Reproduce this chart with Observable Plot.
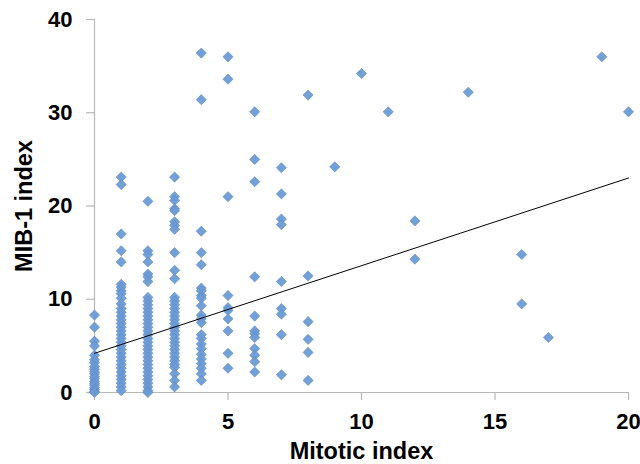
<!DOCTYPE html>
<html>
<head>
<meta charset="utf-8">
<script src="https://cdn.jsdelivr.net/npm/d3@7"></script>
<script src="https://cdn.jsdelivr.net/npm/@observablehq/plot@0.6"></script>
<style>
  html, body { margin: 0; padding: 0; background: #fff; }
  svg { font-family: "Liberation Sans", Arial, sans-serif; }
</style>
</head>
<body>
<div id="chart"></div>
<script>
// Mitotic index (x) and MIB-1 index (y) pairs, grouped by x value
const mitotic0 = [8.3, 7.0, 5.5, 5.0, 4.0, 3.5, 3.2, 2.8, 2.5, 2.2, 2.0, 1.7, 1.5, 1.2, 1.0, 0.8, 0.5, 0.3, 0.1, 0];
const mitotic1 = [23.1, 22.3, 17.0, 15.2, 14.0, 11.6, 11.3, 10.9, 10.6, 10.1, 9.5, 9.0, 8.6, 8.2, 7.8, 7.4, 7.0, 6.6, 6.2, 5.8, 5.4, 5.0, 4.6, 4.2, 3.8, 3.4, 3.0, 2.6, 2.2, 1.8, 1.4, 1.0, 0.6, 0.2];
const mitotic2 = [20.5, 15.2, 14.8, 14.0, 12.7, 12.4, 11.9, 10.2, 9.8, 9.4, 9.0, 8.6, 8.2, 7.8, 7.4, 7.0, 6.6, 6.2, 5.8, 5.4, 5.0, 4.6, 4.2, 3.8, 3.4, 3.0, 2.6, 2.2, 1.8, 1.4, 1.0, 0.6, 0.2, 0];
const mitotic3 = [23.1, 21.0, 20.6, 19.7, 19.5, 18.3, 17.9, 17.5, 15.0, 13.1, 12.2, 10.2, 9.8, 9.4, 9.0, 8.6, 8.2, 7.8, 7.4, 7.0, 6.6, 6.2, 5.8, 5.4, 5.0, 4.6, 4.2, 3.8, 3.4, 3.0, 2.7, 2.0, 1.3, 0.6];
const mitotic4 = [36.4, 31.4, 17.3, 15.0, 13.7, 11.2, 10.9, 10.4, 10.1, 9.3, 8.3, 7.9, 7.5, 6.2, 5.8, 5.2, 4.7, 4.1, 3.6, 3.1, 2.6, 2.0, 1.3];
const mitotic5 = [36.0, 33.6, 21.0, 10.4, 9.1, 8.8, 7.9, 6.6, 4.2, 2.6];
const mitotic6 = [30.1, 25.0, 22.6, 12.4, 8.2, 6.6, 6.3, 5.9, 4.7, 4.0, 3.3, 2.2];
const mitotic7 = [24.1, 21.3, 18.6, 18.0, 11.9, 9.0, 8.4, 6.2, 1.9];
const mitotic8 = [31.9, 12.5, 7.6, 5.7, 4.3, 1.3];
const sparseX = [9, 10, 11, 12, 12, 14, 16, 16, 17, 19, 20];
const sparseY = [24.2, 34.2, 30.1, 18.4, 14.3, 32.2, 14.8, 9.5, 5.9, 36.0, 30.1];

// Trend line endpoints
const trendX = [0, 20];
const trendY = [4.2, 23.0];

const xTicks = [0, 5, 10, 15, 20];
const yTicks = [0, 10, 20, 30, 40];

const columns = [mitotic0, mitotic1, mitotic2, mitotic3, mitotic4, mitotic5, mitotic6, mitotic7, mitotic8];
const points = [];
columns.forEach((col, i) => col.forEach(v => points.push({x: i, y: v})));
sparseX.forEach((x, i) => points.push({x, y: sparseY[i]}));
const trend = trendX.map((x, i) => ({x, y: trendY[i]}));

const axisColor = "#b8b8b8";

const chart = Plot.plot({
  width: 640,
  height: 464,
  marginLeft: 94,
  marginRight: 12,
  marginTop: 19,
  marginBottom: 72,
  style: {fontFamily: "'Liberation Sans', Arial, sans-serif", fontSize: "22px", fontWeight: "bold", color: "#000", background: "#fff"},
  x: {domain: [0, 20], ticks: xTicks, label: null},
  y: {domain: [0, 40], ticks: yTicks, label: null},
  marks: [
    Plot.ruleY([0], {stroke: axisColor, strokeWidth: 1.2}),
    Plot.ruleX([0], {stroke: axisColor, strokeWidth: 1.2}),
    Plot.axisX({ticks: xTicks, tickSize: 8, tickPadding: 13, stroke: axisColor, strokeWidth: 1.2, fill: "#000", fontSize: 22, fontWeight: "bold", label: null, tickFormat: d => d}),
    Plot.axisY({ticks: yTicks, tickSize: 8, tickPadding: 14, stroke: axisColor, strokeWidth: 1.2, fill: "#000", fontSize: 22, fontWeight: "bold", label: null, tickFormat: d => d}),
    Plot.dot(points, {x: "x", y: "y", symbol: "diamond2", r: 4.6, fill: "#6c9bd5", stroke: "#5d8cc6", strokeWidth: 0.6, fillOpacity: 0.95}),
    Plot.line(trend, {x: "x", y: "y", stroke: "#000", strokeWidth: 1}),
    Plot.text(["Mitotic index"], {frameAnchor: "bottom", dy: 66, fontSize: 23.5, fontWeight: "bold", fill: "#000"}),
    Plot.text(["MIB-1 index"], {frameAnchor: "left", textAnchor: "middle", dx: -70, rotate: -90, fontSize: 23.5, fontWeight: "bold", fill: "#000"})
  ]
});
document.getElementById("chart").appendChild(chart);
</script>
</body>
</html>
